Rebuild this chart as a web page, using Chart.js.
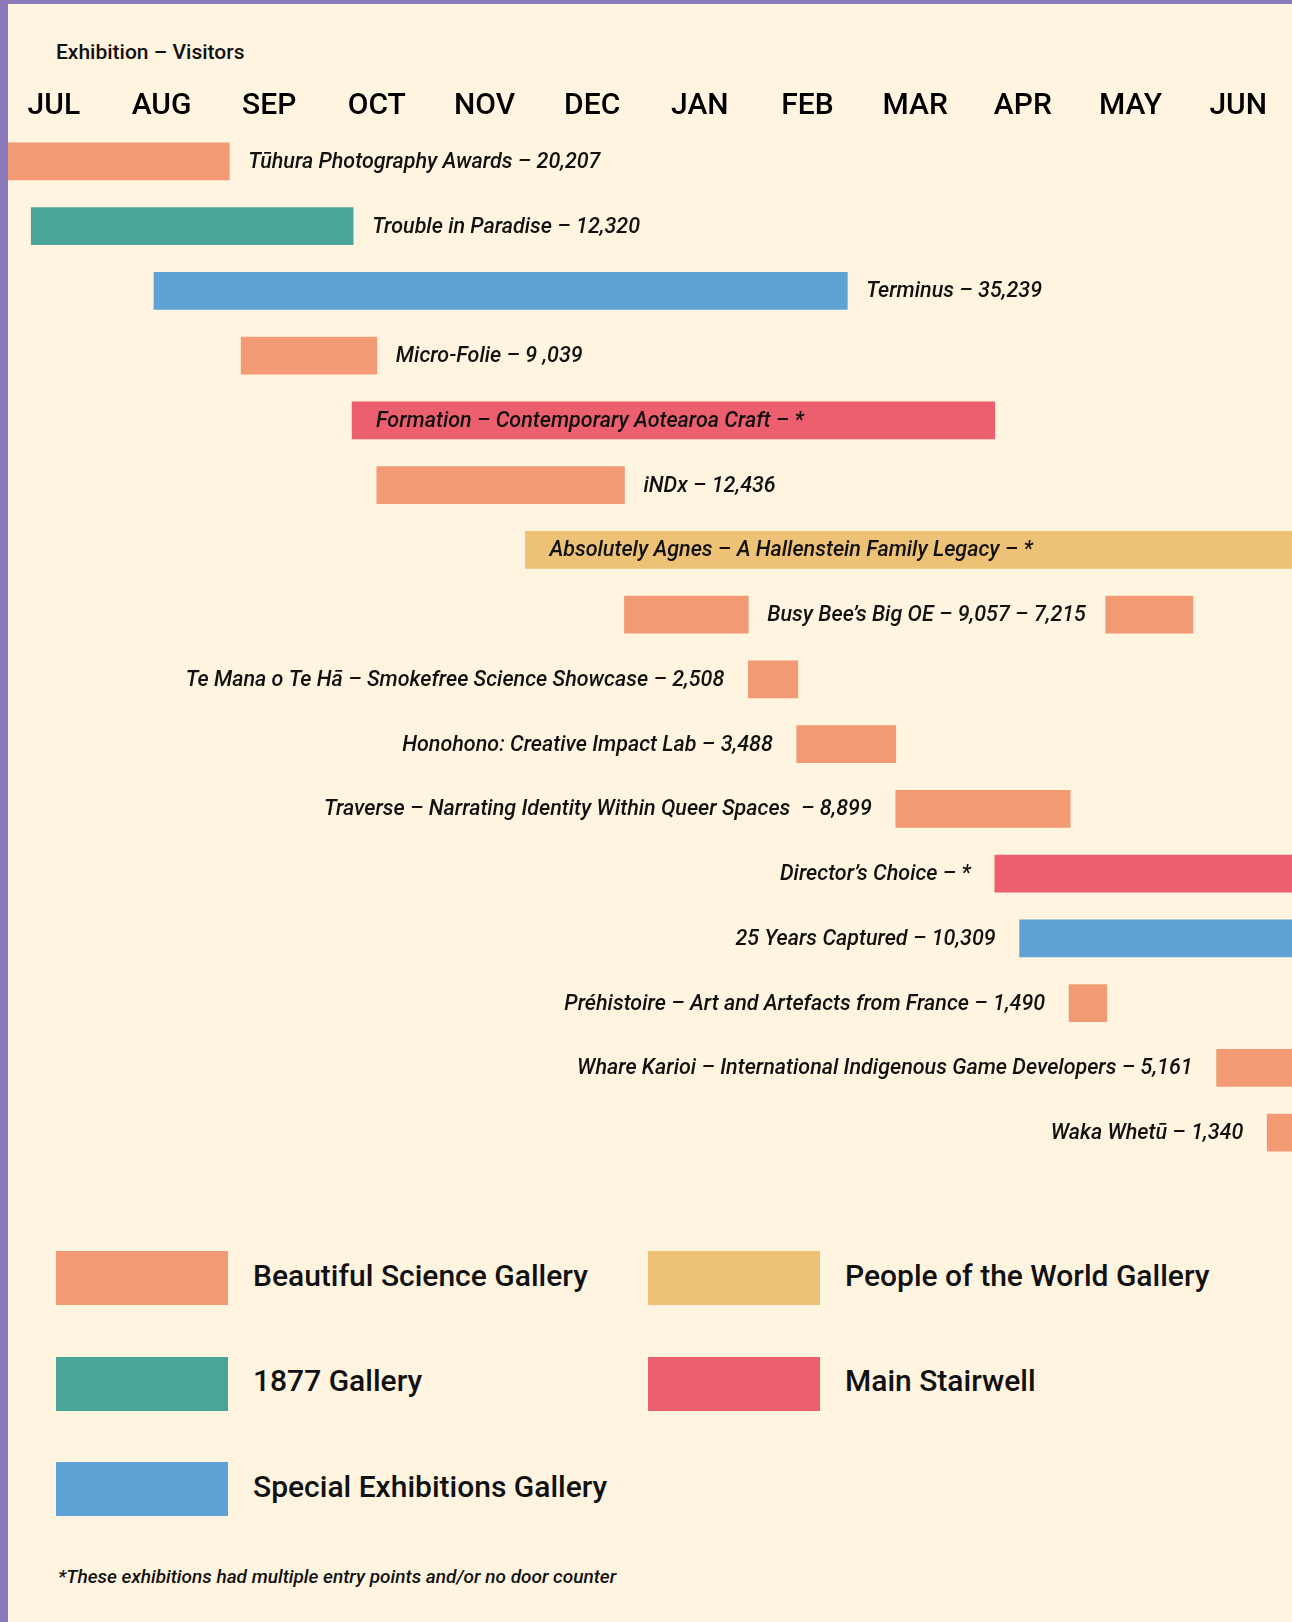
<!DOCTYPE html>
<html><head><meta charset="utf-8">
<script src="https://cdn.jsdelivr.net/npm/chart.js@4.4.1/dist/chart.umd.min.js"></script>
<style>
html,body{margin:0;padding:0;}
body{width:1292px;height:1622px;background:#FFF4DF;position:relative;overflow:hidden;font-family:Roboto,'Liberation Sans',sans-serif;color:#111;}
#wrap{position:absolute;left:0;top:0;width:1292px;height:1170px;}
#bl{position:absolute;left:0;top:0;width:8px;height:1622px;background:#8A7AB9;z-index:5}
#bt{position:absolute;left:0;top:0;width:1292px;height:4px;background:#8A7AB9;z-index:5}
#title{position:absolute;left:56px;top:40px;font-size:21px;font-weight:500;line-height:24px;color:#111;white-space:nowrap}
#legend{position:absolute;left:56px;top:1251px;display:grid;grid-template-columns:592px 592px;grid-auto-rows:105.5px;}
.item{display:flex;align-items:center;height:54px;}
.sw{width:172px;height:54px;margin-right:25px;flex:none}
.lt{font-size:30px;font-weight:500;white-space:nowrap;color:#111;position:relative;top:-3px}
#note{position:absolute;left:58px;top:1566px;font-size:19px;line-height:22px;font-style:italic;font-weight:500;white-space:nowrap;color:#111}
</style></head>
<body>
<div id="bt"></div><div id="bl"></div>
<div id="title"></div>
<div id="wrap"><canvas id="c" width="1292" height="1170"></canvas></div>
<div id="legend"></div>
<div id="note"></div>
<script>
// ---------- DATA ----------
const titleText = 'Exhibition – Visitors';
const months = ['JUL','AUG','SEP','OCT','NOV','DEC','JAN','FEB','MAR','APR','MAY','JUN'];
const exhibitions = [
  'Tūhura Photography Awards',
  'Trouble in Paradise',
  'Terminus',
  'Micro-Folie',
  'Formation – Contemporary Aotearoa Craft',
  'iNDx',
  'Absolutely Agnes – A Hallenstein Family Legacy',
  'Busy Bee’s Big OE',
  'Te Mana o Te Hā – Smokefree Science Showcase',
  'Honohono: Creative Impact Lab',
  'Traverse – Narrating Identity Within Queer Spaces ',
  'Director’s Choice',
  '25 Years Captured',
  'Préhistoire – Art and Artefacts from France',
  'Whare Karioi – International Indigenous Game Developers',
  'Waka Whetū'
];
const visitors = ['20,207','12,320','35,239','9 ,039','*','12,436','*','9,057 – 7,215','2,508','3,488','8,899','*','10,309','1,490','5,161','1,340'];
// months elapsed since 1 July
const startMonth = [0, 0.29, 1.43, 2.24, 3.27, 3.50, 4.88, 5.80, 6.95, 7.40, 8.32, 9.24, 9.47, 9.93, 11.30, 11.77];
const endMonth   = [2.13, 3.28, 7.87, 3.50, 9.24, 5.80, 12, 6.95, 7.41, 8.32, 9.94, 12, 12, 10.28, 12, 12];
// second run (Busy Bee's Big OE)
const secondStart = [null,null,null,null,null,null,null,10.27,null,null,null,null,null,null,null,null];
const secondEnd   = [null,null,null,null,null,null,null,11.08,null,null,null,null,null,null,null,null];
const galleries = ['Beautiful Science Gallery','People of the World Gallery','1877 Gallery','Main Stairwell','Special Exhibitions Gallery'];
const exhibitionGallery = [0,2,4,0,3,0,1,0,0,0,0,3,4,0,0,0];
const footnote = '*These exhibitions had multiple entry points and/or no door counter';

// ---------- STYLE ----------
const galleryColors = ['#F19A73','#EDC176','#49A597','#EB5F6F','#5EA2D6'];
const labelPlacement = ['right','right','right','right','inside','right','inside','right','left','left','left','left','left','left','left','left'];

document.getElementById('title').textContent = titleText;
document.getElementById('note').textContent = footnote;
const lg = document.getElementById('legend');
galleries.forEach((g,i)=>{
  const it = document.createElement('div'); it.className='item';
  const sw = document.createElement('div'); sw.className='sw'; sw.style.background = galleryColors[i];
  const t = document.createElement('div'); t.className='lt'; t.textContent = g;
  it.appendChild(sw); it.appendChild(t); lg.appendChild(it);
});

const labelPlugin = {
  id:'barLabels',
  afterDatasetsDraw(chart){
    const ctx = chart.ctx;
    const meta = chart.getDatasetMeta(0);
    ctx.save();
    ctx.font = 'italic 500 21.5px Roboto';
    ctx.fillStyle = '#111';
    ctx.textBaseline = 'middle';
    exhibitions.forEach((name,i)=>{
      const bar = meta.data[i];
      const text = name + ' – ' + visitors[i];
      const left = Math.min(bar.x, bar.base), right = Math.max(bar.x, bar.base);
      let x;
      if (labelPlacement[i]==='right'){ x = right + 19; ctx.textAlign='left'; }
      else if (labelPlacement[i]==='inside'){ x = left + 24; ctx.textAlign='left'; }
      else { x = left - 24; ctx.textAlign='right'; }
      ctx.fillText(text, x, bar.y + 1);
    });
    ctx.restore();
  }
};

const colors = exhibitionGallery.map(g=>galleryColors[g]);
new Chart(document.getElementById('c'), {
  type:'bar',
  data:{
    labels: exhibitions,
    datasets:[
      {label:'Run', data: exhibitions.map((e,i)=>[startMonth[i], endMonth[i]]), backgroundColor: colors, grouped:false, barThickness:37, borderWidth:0, borderSkipped:false},
      {label:'Second run', data: exhibitions.map((e,i)=> secondStart[i]==null ? null : [secondStart[i], secondEnd[i]]), backgroundColor: colors, grouped:false, barThickness:37, borderWidth:0, borderSkipped:false}
    ]
  },
  options:{
    indexAxis:'y',
    responsive:false, animation:false, devicePixelRatio:1,
    layout:{padding:{top:84,bottom:5,left:0,right:0}},
    plugins:{legend:{display:false}, tooltip:{enabled:false}},
    scales:{
      x:{type:'linear', position:'top', min:0, max:12,
         afterBuildTicks: s => { s.ticks = months.map((m,i)=>({value:i+0.5})); },
         ticks:{callback:(v,i)=>months[i], font:{family:'Roboto', size:30, weight:'500'}, color:'#000', padding:4.5, maxRotation:0, autoSkip:false},
         grid:{display:false, drawTicks:false, tickLength:0}, border:{display:false}},
      y:{type:'category', display:false, offset:true}
    }
  },
  plugins:[labelPlugin]
});
</script>
</body></html>
